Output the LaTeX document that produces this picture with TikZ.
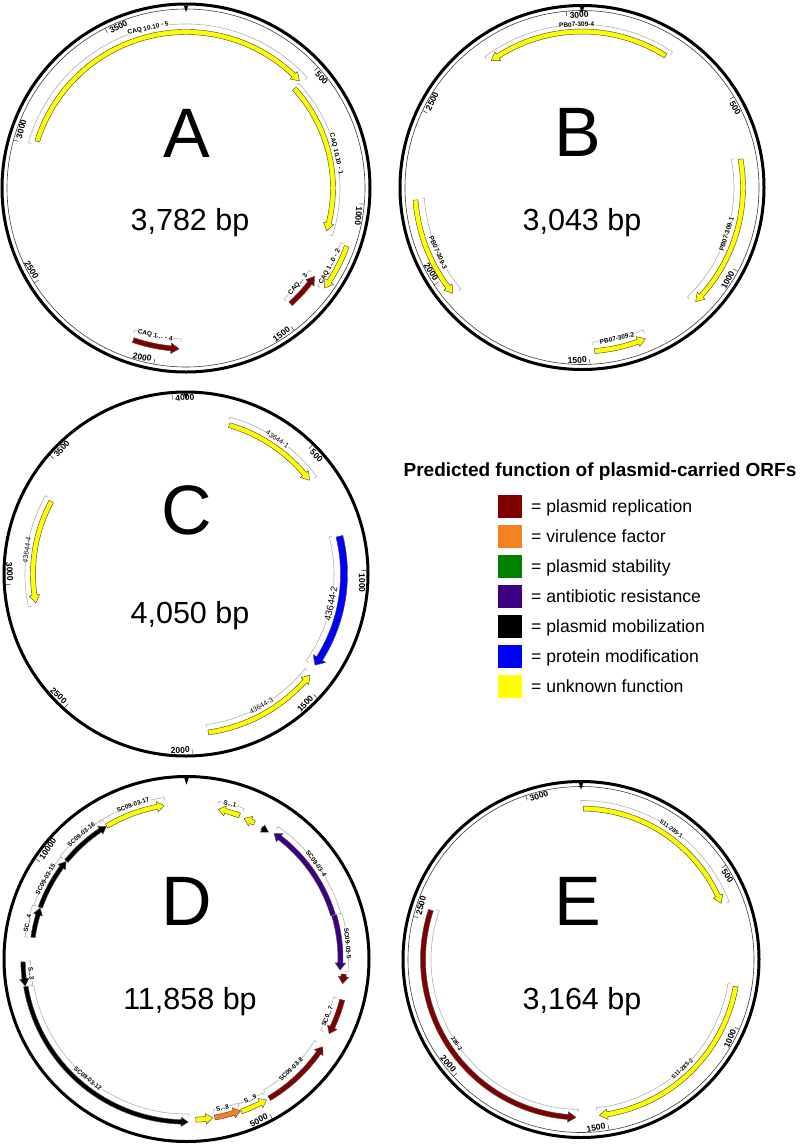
\documentclass[tikz,border=0pt]{standalone}
\usepackage{fontspec}
\setmainfont{Liberation Sans}
\usetikzlibrary{calc}

% ORF colours (legend)
\definecolor{repcol}{RGB}{128,0,0}
\definecolor{virucol}{RGB}{245,130,32}
\definecolor{stabcol}{RGB}{0,128,0}
\definecolor{abrcol}{RGB}{60,0,128}
\definecolor{mobcol}{RGB}{0,0,0}
\definecolor{protcol}{RGB}{0,0,255}
\definecolor{unkcol}{RGB}{255,255,0}

\tikzset{
  ring/.style={line width=3pt},
  innerring/.style={line width=0.6pt, black!75},
  tickline/.style={line width=0.5pt, black!80},
  ticklab/.style={font=\fontsize{8.5}{8.5}\selectfont\bfseries, inner sep=0.4pt},
  orfline/.style={draw=black!70, line width=0.45pt, line join=round},
  orfbrk/.style={draw=black!30, line width=0.6pt},
  orflab/.style={font=\fontsize{6.5}{6.5}\selectfont\bfseries, fill=white, inner sep=0.5pt},
  pmname/.style={font=\fontsize{70}{70}\selectfont, anchor=base, inner sep=0pt},
  pmsize/.style={font=\fontsize{30.5}{30.5}\selectfont, anchor=base, inner sep=0pt},
  legtitle/.style={font=\fontsize{19}{19}\selectfont\bfseries, anchor=base, inner sep=0pt},
  legbox/.style={minimum width=24pt, minimum height=23pt, inner sep=0pt},
  legtext/.style={font=\fontsize{17.6}{17.6}\selectfont, anchor=base west, inner sep=0pt},
}

\newcount\orfno
\def\headlen{8}

% ORF arrow: [half width]{radius}{from bp}{to bp}{colour}
\newcommand{\orf}[5][2.5]{%
  \pgfmathsetmacro{\phS}{(#3)/\plen*360-90}%
  \pgfmathsetmacro{\phE}{(#4)/\plen*360-90}%
  \pgfmathsetmacro{\phD}{ifthenelse(\phE>\phS,1,-1)*min(\headlen/(#2)*57.29578,abs((\phE)-(\phS)))}%
  \pgfmathsetmacro{\phH}{(\phE)-(\phD)}%
  \pgfmathsetmacro{\rOut}{#2+#1}%
  \pgfmathsetmacro{\rIn}{#2-#1}%
  \pgfmathsetmacro{\rHo}{#2+2.1*#1}%
  \pgfmathsetmacro{\rHi}{#2-2.1*#1}%
  \filldraw[orfline, fill=#5] ($(\pc)+(\phS:\rOut)$) arc[start angle=\phS, end angle=\phH, radius=\rOut]
    -- ($(\pc)+(\phH:\rHo)$) -- ($(\pc)+(\phE:#2)$) -- ($(\pc)+(\phH:\rHi)$)
    -- ($(\pc)+(\phH:\rIn)$) arc[start angle=\phH, end angle=\phS, radius=\rIn] -- cycle;
}

% ORF bracket and label: [label style]{radius}{hook}{from bp}{to bp}{label bp}{text}
\newcommand{\orfnote}[7][]{%
  \pgfmathsetmacro{\phS}{(#4)/\plen*360-90}%
  \pgfmathsetmacro{\phE}{(#5)/\plen*360-90}%
  \pgfmathsetmacro{\rHk}{(#2)+(#3)}%
  \draw[orfbrk] ($(\pc)+(\phS:\rHk)$) -- ($(\pc)+(\phS:#2)$) arc[start angle=\phS, end angle=\phE, radius=#2] -- ($(\pc)+(\phE:\rHk)$);
  \pgfmathsetmacro{\thL}{mod((#6)/\plen*360+720,360)}%
  \pgfmathsetmacro{\phL}{\thL-90}%
  \pgfmathsetmacro{\rotL}{-\thL}%
  \ifdim\thL pt>100pt\ifdim\thL pt<270pt\pgfmathsetmacro{\rotL}{180-\thL}\fi\fi
  \global\advance\orfno by 1
  \node[orflab, #1, rotate=\rotL] (orf\the\orfno) at ($(\pc)+(\phL:#2)$) {#7};
}

% scale tick with its label
\newcommand{\pmtick}[1]{%
  \pgfmathsetmacro{\thT}{mod((#1)/\plen*360+720,360)}%
  \pgfmathsetmacro{\phT}{\thT-90}%
  \pgfmathsetmacro{\phTL}{\phT+0.8}%
  \pgfmathsetmacro{\rTk}{\ptick-5}%
  \draw[tickline] ($(\pc)+(\phT:\ptick)$) -- ($(\pc)+(\phT:\rTk)$);
  \def\flipside{0}%
  \ifdim\thT pt>100pt\ifdim\thT pt<270pt\def\flipside{1}\fi\fi
  \ifnum\flipside=1
    \node[ticklab, rotate=180-\thT, anchor=south east] (\pc-tick-#1) at ($(\pc)+(\phTL:\ptick-1)$) {#1};
  \else
    \node[ticklab, rotate=-\thT, anchor=north west] (\pc-tick-#1) at ($(\pc)+(\phTL:\ptick-1)$) {#1};
  \fi
}

% origin marker on the ring
\newcommand{\pmtop}[1]{%
  \fill ($(\pc)+(-2.2,-#1+1.5)$) -- ++(4.4,0) -- ++(-2.2,6.5) -- cycle;}

\begin{document}
\begin{tikzpicture}[x=1pt, y=-1pt]
  \path[use as bounding box, fill=white] (0,0) rectangle (800,1144);

  % --- plasmid A
  \begin{scope}
    \def\pc{A}\def\plen{3782}\def\ptick{179}
    \coordinate (A) at (186,188);
    \orfnote{164}{-3}{3005}{3782+500}{3642}{CAQ 10.10 - 5}
    \orfnote{154}{-3}{495}{1135}{811}{CAQ 10.10 - 1}
    \orfnote{164}{3}{1150}{1330}{1247}{CAQ 1...0 - 2}
    \orfnote{148}{3}{1300}{1455}{1374}{CAQ... 3}
    \orfnote{151}{3}{1910}{2100}{2015}{CAQ 1... - 4}
    \orf{156}{3019}{3782+490}{unkcol}
    \orf{147}{499}{1124}{unkcol}
    \orf{171}{1155}{1322}{unkcol}
    \orf{156}{1449}{1308}{repcol}
    \orf{161}{2092}{1917}{repcol}
    \foreach \t in {500,1000,...,3500} {\pmtick{\t}}
    \draw[ring] (A) circle[radius=184];
    \draw[innerring] (A) circle[radius=179];
    \pmtop{184}
    \node[pmname] (A-name) at (187,157) {A};
    \node[pmsize] (A-size) at (190,230) {3,782 bp};
  \end{scope}

  % --- plasmid B
  \begin{scope}
    \def\pc{B}\def\plen{3043}\def\ptick{177}
    \coordinate (B) at (582,187.5);
    \orfnote{163}{-3}{285}{-310}{-16}{PB07-309-4}
    \orfnote{152}{3}{670}{1150}{913}{PB07-309-1}
    \orfnote{155}{3}{1325}{1490}{1411}{PB07-309-2}
    \orfnote{158}{3}{1945}{2250}{2076}{PB07-309-3}
    \orf{156}{274}{-301}{unkcol}
    \orf{161}{675}{1142}{unkcol}
    \orf{164}{1484}{1329}{unkcol}
    \orf{167}{2246}{1950}{unkcol}
    \foreach \t in {500,1000,...,3000} {\pmtick{\t}}
    \draw[ring] (B) circle[radius=182];
    \draw[innerring] (B) circle[radius=177];
    \pmtop{182}
    \node[pmname] (B-name) at (578,156) {B};
    \node[pmsize] (B-size) at (582,230) {3,043 bp};
  \end{scope}

  % --- plasmid C
  \begin{scope}
    \def\pc{C}\def\plen{4050}\def\ptick{180.5}
    \tikzset{orflab/.append style={font=\fontsize{7}{7}\selectfont}}
    \coordinate (C) at (186,574);
    \orfnote{163}{-3}{175}{600}{384}{43644-1}
    \orfnote[font=\fontsize{9.5}{9.5}\selectfont]{148}{3}{850}{1415}{1143}{43644-2}
    \orfnote{152}{3}{1445}{1940}{1691}{43644-3}
    \orfnote{161}{-3}{2905}{3365}{3134}{43644-4}
    \orf{155}{182}{594}{unkcol}
    \orf[3.5]{158}{857}{1409}{protcol}
    \orf{160}{1935}{1453}{unkcol}
    \orf{153}{3356}{2914}{unkcol}
    \foreach \t in {500,1000,...,4000} {\pmtick{\t}}
    \draw[ring] (C) circle[radius=182];
    \pmtop{182}
    \node[pmname] (C-name) at (187,534) {C};
    \node[pmsize] (C-size) at (190,623) {4,050 bp};
  \end{scope}

  % --- plasmid D
  \begin{scope}
    \def\pc{D}\def\plen{11858}\def\ptick{181}\def\headlen{7}
    \tikzset{orflab/.append style={font=\fontsize{6.3}{6.3}\selectfont\bfseries}}
    \coordinate (D) at (186.5,959);
    \orfnote{163}{-3}{10800}{11600}{11226}{SC09-03-17}
    \orfnote{161}{-3}{380}{690}{517}{S...1}
    \orfnote{161}{-3}{1140}{2420}{1766}{SC09-03-4}
    \orfnote{162}{-3}{2425}{3110}{2780}{SC09-03-5}
    \orfnote{152}{3}{3440}{3885}{3696}{SC0...7}
    \orfnote{152}{3}{4035}{4925}{4500}{SC09-03-8}
    \orfnote{154}{3}{4950}{5285}{5125}{S...9}
    \orfnote{153}{3}{5280}{5600}{5481}{S...8}
    \orfnote{155}{3}{5900}{8570}{7230}{SC09-03-12}
    \orfnote{156}{3}{8580}{8870}{8719}{S...3}
    \orfnote{163}{-3}{9150}{9530}{9309}{SC...4}
    \orfnote{162}{-3}{9535}{10180}{9862}{SC09-03-15}
    \orfnote{163}{-3}{10185}{10835}{10531}{SC09-03-16}
    \orf{155}{10837}{11585}{unkcol}
    \orf{153}{669}{395}{unkcol}
    \orf{152}{873}{735}{unkcol}
    \orf[2]{151}{985}{1084}{mobcol}
    \orf{153}{2414}{1150}{abrcol}
    \orf{154}{2421}{3100}{abrcol}
    \orf{158}{3146}{3261}{repcol}
    \orf{161}{3449}{3874}{repcol}
    \orf{162}{4918}{4045}{repcol}
    \orf{162}{5277}{4954}{unkcol}
    \orf{161}{5596}{5284}{virucol}
    \orf{161}{5820}{5620}{unkcol}
    \orf[2.2]{163}{8574}{5910}{mobcol}
    \orf[2.2]{163.5}{8861}{8581}{mobcol}
    \orf[2.2]{155}{9157}{9526}{mobcol}
    \orf[2.2]{155}{9533}{10178}{mobcol}
    \orf[2.2]{155}{10185}{10831}{mobcol}
    \foreach \t in {5000,10000} {\pmtick{\t}}
    \draw[ring] (D) circle[radius=182.5];
    \pmtop{182.5}
    \node[pmname] (D-name) at (187,925) {D};
    \node[pmsize] (D-size) at (190,1009) {11,858 bp};
  \end{scope}

  % --- plasmid E
  \begin{scope}
    \def\pc{E}\def\plen{3164}\def\ptick{173}
    \tikzset{orflab/.append style={font=\fontsize{5.8}{5.8}\selectfont\bfseries}}
    \coordinate (E) at (581,959.5);
    \orfnote{159}{-3}{0}{605}{304}{S11-285-1}
    \orfnote{149}{3}{870}{1530}{1206}{S11-285-2}
    \orfnote{150}{3}{1590}{2540}{2074}{285-3}
    \orf{151}{8}{599}{unkcol}
    \orf{157}{878}{1523}{unkcol}
    \orf{158}{2533}{1598}{repcol}
    \foreach \t in {500,1000,...,3000} {\pmtick{\t}}
    \draw[ring] (E) circle[radius=178];
    \draw[innerring] (E) circle[radius=173];
    \pmtop{178}
    \node[pmname] (E-name) at (578,925) {E};
    \node[pmsize] (E-size) at (582,1009) {3,164 bp};
  \end{scope}

  % legend
  \node[legtitle] (legend) at (600,476) {Predicted function of plasmid-carried ORFs};
  \foreach \col/\txt [count=\i] in {repcol/plasmid replication, virucol/virulence factor,
      stabcol/plasmid stability, abrcol/antibiotic resistance, mobcol/plasmid mobilization,
      protcol/protein modification, unkcol/unknown function} {
    \node[legbox, fill=\col] (key\i) at (510,476+30*\i) {};
    \node[legtext] (keytext\i) at (531,482+30*\i) {= \txt};
  }
\end{tikzpicture}
\end{document}
